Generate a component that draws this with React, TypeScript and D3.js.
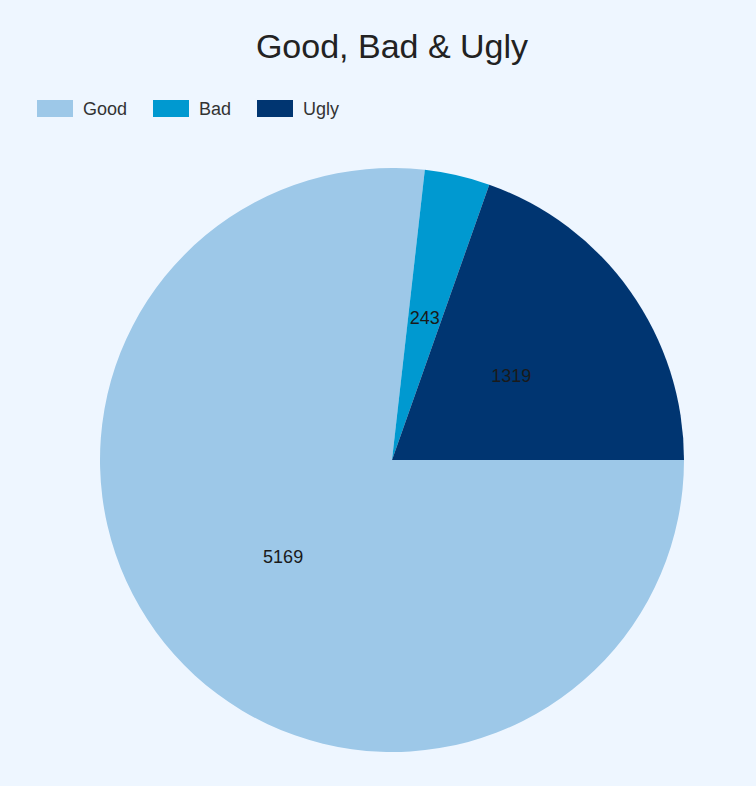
import React from "react";
import * as d3 from "d3";

const categories = ["Good", "Bad", "Ugly"];
const values = [5169, 243, 1319];
const colors = ["#9dc8e8", "#0099d0", "#003571"];

const W = 756;
const H = 786;
const cx = 392;
const cy = 460;
const R = 292;

export default function App() {
  const data = categories.map((c, i) => ({ c, v: values[i], col: colors[i] }));
  const pie = d3
    .pie<any>()
    .value((d) => d.v)
    .sort(null)
    .startAngle(Math.PI / 2)
    .endAngle(Math.PI / 2 + 2 * Math.PI);
  const arcs = pie(data);
  const arc = d3.arc<any>().innerRadius(0).outerRadius(R);
  const legendX = [37, 153, 257];
  return (
    <svg
      width={W}
      height={H}
      style={{ position: "absolute", left: 0, top: 0, background: "#eef6ff" }}
      fontFamily="Liberation Sans, Arial, sans-serif"
    >
      <rect x={0} y={0} width={W} height={H} fill="#eef6ff" />
      <text x={392} y={58} textAnchor="middle" fontSize={34} fill="#222">
        Good, Bad &amp; Ugly
      </text>
      {data.map((d, i) => (
        <g key={d.c} transform={`translate(${legendX[i]},100)`}>
          <rect width={36} height={17} fill={d.col} />
          <text x={46} y={15} fontSize={18} fill="#333">
            {d.c}
          </text>
        </g>
      ))}
      <g transform={`translate(${cx},${cy})`}>
        {arcs.map((a, i) => (
          <path key={i} d={arc(a) as string} fill={a.data.col} />
        ))}
        {arcs.map((a, i) => {
          const [x, y] = arc.centroid(a);
          return (
            <text
              key={"t" + i}
              x={x}
              y={y}
              textAnchor="middle"
              dominantBaseline="central"
              fontSize={18}
              fill="#1a1a1a"
            >
              {a.data.v}
            </text>
          );
        })}
      </g>
    </svg>
  );
}
